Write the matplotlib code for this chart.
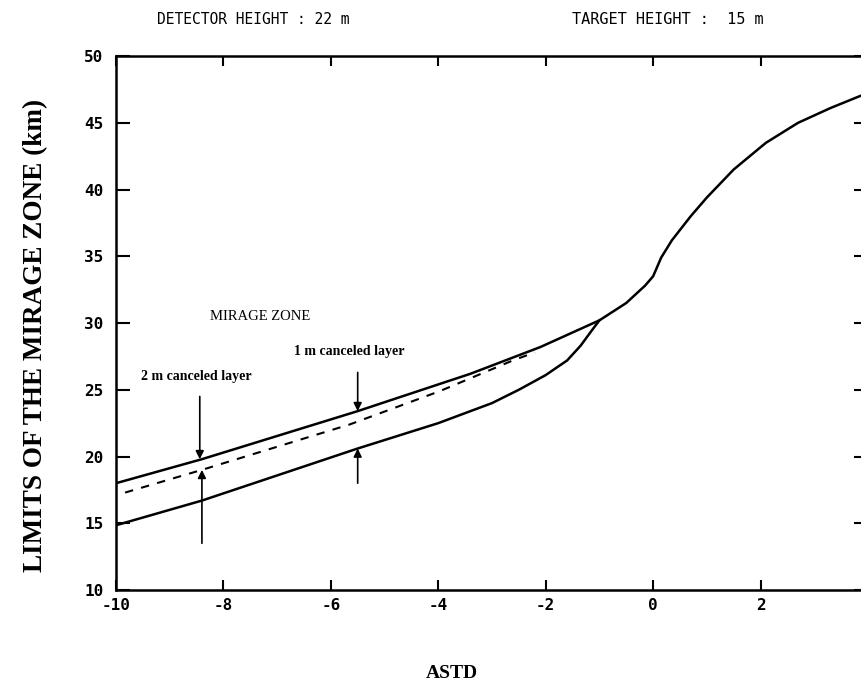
import matplotlib
matplotlib.use('Agg')
import matplotlib.pyplot as plt

# upper limit of the mirage zone
upper_x = [-10, -8.4, -5.5, -3.4, -2.1, -1.0, -0.5, -0.15, 0.0, 0.15, 0.35, 0.7, 1.0, 1.5, 2.1, 2.7, 3.3, 3.85, 4.0]
upper_y = [18.0, 19.8, 23.4, 26.2, 28.2, 30.2, 31.5, 32.8, 33.5, 34.9, 36.2, 38.0, 39.4, 41.5, 43.5, 45.0, 46.1, 47.0, 47.2]

# lower limit
lower_x = [-10, -8.4, -5.5, -4.0, -3.0, -2.5, -2.0, -1.6, -1.35, -1.15, -1.0]
lower_y = [14.85, 16.7, 20.6, 22.5, 24.0, 25.0, 26.1, 27.2, 28.3, 29.4, 30.2]

# lower limit with canceled layer (dashed)
dash_x = [-9.83, -8.4, -5.65, -3.97, -2.61, -2.2]
dash_y = [17.3, 19.0, 22.4, 24.9, 27.2, 27.8]

x_ticks = [-10, -8, -6, -4, -2, 0, 2, 4]
y_ticks = [10, 15, 20, 25, 30, 35, 40, 45, 50]

fig = plt.figure(figsize=(8.61, 6.84), dpi=100)
ax = fig.add_axes([0.1347, 0.1374, 0.8734, 0.7807])

ax.plot(upper_x, upper_y, color='black', lw=1.8)
ax.plot(lower_x, lower_y, color='black', lw=1.8)
ax.plot(dash_x, dash_y, color='black', lw=1.5, linestyle=(0, (4, 4)))

ax.set_xlim(-10, 4)
ax.set_ylim(10, 50)
ax.set_xticks(x_ticks)
ax.set_yticks(y_ticks)
ax.set_xticklabels([str(t) for t in x_ticks])
ax.tick_params(axis='both', direction='in', top=True, right=True, width=1.5,
               labelsize=11.5, colors='black')
ax.tick_params(axis='y', length=10, pad=9)
ax.tick_params(axis='x', length=7, pad=6)
for lab in ax.get_xticklabels() + ax.get_yticklabels():
    lab.set_family('DejaVu Sans Mono')
    lab.set_fontweight('bold')
for sp in ax.spines.values():
    sp.set_linewidth(1.8)

serif = 'Liberation Serif'
ax.set_xlabel('ASTD', family=serif, fontweight='bold', fontsize=14)
ax.xaxis.set_label_coords(0.447, -0.14)
ax.set_ylabel('LIMITS OF THE MIRAGE ZONE (km)', family=serif, fontweight='bold',
              fontsize=19.5)
ax.yaxis.set_label_coords(-0.09, 0.477)

ax.text(-7.32, 30.5, 'MIRAGE ZONE', family=serif, fontsize=10.5, ha='center', va='center')
ax.text(-5.65, 27.9, '1 m canceled layer', family=serif, fontsize=10, fontweight='bold',
        ha='center', va='center')
ax.text(-8.5, 26.0, '2 m canceled layer', family=serif, fontsize=10, fontweight='bold',
        ha='center', va='center')

arrow = dict(arrowstyle='-|>', color='black', lw=1.2, mutation_scale=12, shrinkA=0, shrinkB=0)
ax.annotate('', xy=(-8.44, 19.8), xytext=(-8.44, 24.5), arrowprops=arrow)
ax.annotate('', xy=(-8.4, 19.0), xytext=(-8.4, 13.5), arrowprops=arrow)
ax.annotate('', xy=(-5.5, 23.4), xytext=(-5.5, 26.3), arrowprops=arrow)
ax.annotate('', xy=(-5.5, 20.6), xytext=(-5.5, 18.0), arrowprops=arrow)

fig.text(253 / 861, 1 - 20 / 684, 'DETECTOR HEIGHT : 22 m', family='DejaVu Sans Mono',
         fontsize=10.5, ha='center', va='center')
fig.text(668 / 861, 1 - 20 / 684, 'TARGET HEIGHT :  15 m', family='DejaVu Sans Mono',
         fontsize=11, ha='center', va='center')

fig.savefig('out.png', dpi=100)
